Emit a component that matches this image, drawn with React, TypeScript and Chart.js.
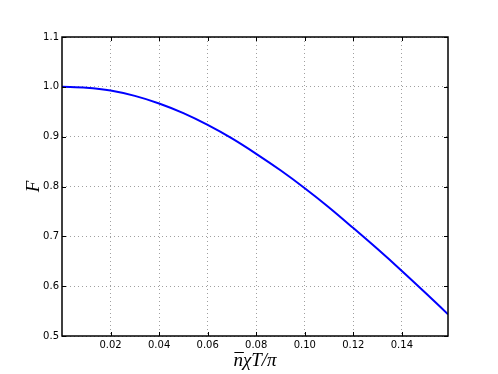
import React, { useEffect, useRef } from "react";
import { Chart, registerables } from "chart.js";

Chart.register(...registerables);

const xValues = [0, 0.01, 0.02, 0.03, 0.04, 0.05, 0.06, 0.07, 0.08, 0.09, 0.1, 0.11, 0.12, 0.13, 0.14, 0.15, 0.159];
const fValues = [1.0, 0.9982, 0.9926, 0.9818, 0.9666, 0.9472, 0.9236, 0.8965, 0.8656, 0.8325, 0.7966, 0.758, 0.7166, 0.6744, 0.6306, 0.5853, 0.5436];
const xTicks = [0.02, 0.04, 0.06, 0.08, 0.1, 0.12, 0.14];
const yTicks = [0.5, 0.6, 0.7, 0.8, 0.9, 1.0, 1.1];
const xLabelBar = "n";
const xLabelRest = "\u03C7T/\u03C0";
const yLabel = "F";

export default function App() {
  const ref = useRef<HTMLCanvasElement | null>(null);
  useEffect(() => {
    if (!ref.current) return;
    const framePlugin = {
      id: "frame",
      afterDraw(chart: any) {
        const { ctx, chartArea, scales } = chart;
        const { left, right, top, bottom } = chartArea;
        ctx.save();
        // inward tick marks
        ctx.strokeStyle = "#000";
        ctx.lineWidth = 1;
        const tl = 4;
        ctx.beginPath();
        xTicks.forEach((v) => {
          const px = Math.round(scales.x.getPixelForValue(v)) + 0.5;
          ctx.moveTo(px, bottom);
          ctx.lineTo(px, bottom - tl);
          ctx.moveTo(px, top);
          ctx.lineTo(px, top + tl);
        });
        yTicks.forEach((v) => {
          const py = Math.round(scales.y.getPixelForValue(v)) + 0.5;
          ctx.moveTo(left, py);
          ctx.lineTo(left + tl, py);
          ctx.moveTo(right, py);
          ctx.lineTo(right - tl, py);
        });
        ctx.stroke();
        // frame
        ctx.lineWidth = 1.5;
        ctx.strokeRect(left, top, right - left, bottom - top);
        // axis labels
        ctx.fillStyle = "#000";
        ctx.font = "italic 19px 'Liberation Serif', serif";
        ctx.textBaseline = "alphabetic";
        ctx.textAlign = "left";
        const wBar = ctx.measureText(xLabelBar).width;
        const wRest = ctx.measureText(xLabelRest).width;
        const total = wBar + wRest;
        const x0 = (left + right) / 2 - total / 2;
        const base = 366;
        ctx.fillText(xLabelBar, x0, base);
        ctx.fillText(xLabelRest, x0 + wBar, base);
        ctx.lineWidth = 1;
        ctx.beginPath();
        ctx.moveTo(x0 + 1, base - 13.5);
        ctx.lineTo(x0 + wBar + 1, base - 13.5);
        ctx.stroke();
        ctx.textAlign = "center";
        ctx.textBaseline = "middle";
        ctx.translate(34, (top + bottom) / 2);
        ctx.rotate(-Math.PI / 2);
        ctx.fillText(yLabel, 0, 0);
        ctx.restore();
      },
    };
    const chart = new Chart(ref.current, {
      type: "line",
      data: {
        datasets: [
          {
            data: xValues.map((x, i) => ({ x, y: fValues[i] })),
            borderColor: "#0000ff",
            borderWidth: 2,
            pointRadius: 0,
            cubicInterpolationMode: "monotone",
            fill: false,
          },
        ],
      },
      options: {
        animation: false,
        responsive: false,
        maintainAspectRatio: false,
        layout: { padding: { left: 0, right: 50, top: 37, bottom: 0 } },
        plugins: { legend: { display: false }, tooltip: { enabled: false } },
        scales: {
          x: {
            type: "linear",
            min: 0,
            max: 0.159,
            afterBuildTicks: (scale: any) => {
              scale.ticks = xTicks.map((v) => ({ value: v }));
            },
            afterFit: (scale: any) => {
              scale.height = 38;
            },
            ticks: {
              padding: 3,
              color: "#000",
              font: { family: "'DejaVu Sans', sans-serif", size: 10 },
              callback: (v: any) => Number(v).toFixed(2),
              maxRotation: 0,
              autoSkip: false,
            },
            grid: {
              drawTicks: false,
              color: "#a0a0a0",
              lineWidth: 1,
            },
            border: { display: false, dash: [1, 3] },
          },
          y: {
            type: "linear",
            min: 0.5,
            max: 1.1,
            afterBuildTicks: (scale: any) => {
              scale.ticks = yTicks.map((v) => ({ value: v }));
            },
            afterFit: (scale: any) => {
              scale.width = 62;
            },
            ticks: {
              padding: 3,
              color: "#000",
              font: { family: "'DejaVu Sans', sans-serif", size: 10 },
              callback: (v: any) => Number(v).toFixed(1),
              autoSkip: false,
            },
            grid: {
              drawTicks: false,
              color: "#a0a0a0",
              lineWidth: 1,
            },
            border: { display: false, dash: [1, 3] },
          },
        },
      },
      plugins: [framePlugin],
    } as any);
    return () => chart.destroy();
  }, []);
  return (
    <div style={{ position: "absolute", left: 0, top: 0, width: 498, height: 374, background: "#fff" }}>
      <canvas ref={ref} width={498} height={374} style={{ width: 498, height: 374 }} />
    </div>
  );
}
